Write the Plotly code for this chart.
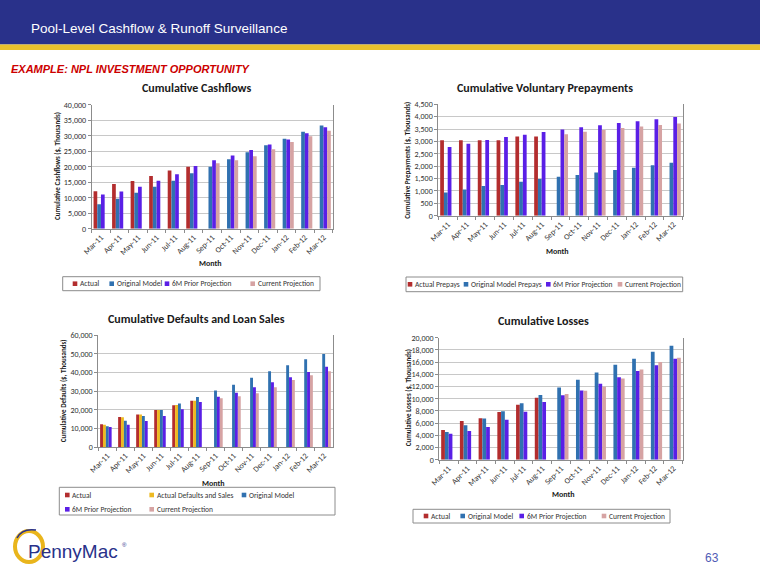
import plotly.graph_objects as go

W, H = 760, 587

months = ["Mar-11", "Apr-11", "May-11", "Jun-11", "Jul-11", "Aug-11", "Sep-11",
          "Oct-11", "Nov-11", "Dec-11", "Jan-12", "Feb-12", "Mar-12"]

# Chart 1: Cumulative Cashflows ($, Thousands)
cf_actual = [12100, 14400, 15400, 17000, 18800, 20000, None, None, None, None, None, None, None]
cf_original = [7850, 9700, 11600, 13500, 15500, 17850, 20000, 22400, 24700, 26900, 29000, 31300, 33300]
cf_6m = [11050, 12000, 13500, 15500, 17600, 20200, 22100, 23600, 25350, 27200, 28800, 30750, 32700]
cf_current = [None, None, None, None, None, None, 21150, 22100, 23400, 25600, 27950, 29850, 31600]

# Chart 2: Cumulative Voluntary Prepayments ($, Thousands)
pp_actual = [3050, 3050, 3050, 3050, 3200, 3200, None, None, None, None, None, None, None]
pp_original = [940, 1060, 1200, 1240, 1375, 1480, 1575, 1645, 1750, 1845, 1940, 2035, 2140]
pp_6m = [2780, 2910, 3060, 3180, 3275, 3385, 3480, 3570, 3655, 3745, 3815, 3895, 3990]
pp_current = [None, None, None, None, None, None, 3290, 3395, 3465, 3545, 3600, 3665, 3720]

# Chart 3: Cumulative Defaults and Loan Sales ($, Thousands)
dl_actual = [12200, 16100, 17500, 19900, 22400, 24900, None, None, None, None, None, None, None]
dl_actual_ds = [12000, 15950, 17400, 19900, 22550, 24900, None, None, None, None, None, None, None]
dl_original = [11100, 14150, 16650, 19900, 23300, 26900, 30300, 33500, 37250, 40650, 43900, 47100, 50000]
dl_6m = [10750, 12000, 13950, 16650, 20250, 24200, 27050, 29200, 32050, 34750, 37450, 40300, 43150]
dl_current = [None, None, None, None, None, None, 26150, 27250, 28850, 32050, 36000, 38500, 40650]

# Chart 4: Cumulative Losses ($, Thousands)
ls_actual = [4850, 6350, 6800, 7800, 9000, 10150, None, None, None, None, None, None, None]
ls_original = [4550, 5650, 6750, 7950, 9250, 10600, 11850, 13100, 14300, 15550, 16550, 17700, 18700]
ls_6m = [4250, 4700, 5350, 6550, 7850, 9450, 10550, 11350, 12450, 13500, 14550, 15500, 16550]
ls_current = [None, None, None, None, None, None, 10750, 11300, 11950, 13300, 14800, 16000, 16700]

C_ACT = "#B32D2E"
C_ADS = "#EDB921"
C_ORIG = "#3071B0"
C_6M = "#5A1FE6"
C_CUR = "#D6A3A3"

FONT = "Carlito, Lato, Liberation Sans, sans-serif"
HFONT = "Liberation Sans Narrow, Arial Narrow, Liberation Sans, Arial, sans-serif"

def px_x(v):
    return v / W

def px_y(v):
    return 1 - v / H

charts = [
    dict(title="Cumulative Cashflows", ytitle="Cumulative Cashflows ($, Thousands)",
         series=[("Actual", cf_actual, C_ACT), ("Original Model", cf_original, C_ORIG),
                 ("6M Prior Projection", cf_6m, C_6M), ("Current Projection", cf_current, C_CUR)],
         ymax=40000, dtick=5000, box=(91.7, 332.7, 104.7, 228.7),
         tpos=(196, 88), ypos=(57, 166), mpos=(211, 263),
         legbox=(62.7, 320, 276.7, 290.7),
         legitems=[(75, 283.7), (111.7, 283.7), (167, 283.7), (252.7, 283.7)]),
    dict(title="Cumulative Voluntary Prepayments", ytitle="Cumulative Prepayments ($, Thousands)",
         series=[("Actual Prepays", pp_actual, C_ACT), ("Original Model Prepays", pp_original, C_ORIG),
                 ("6M Prior Projection", pp_6m, C_6M), ("Current Projection", pp_current, C_CUR)],
         ymax=4500, dtick=500, box=(438.3, 682.7, 104.3, 215.7),
         tpos=(545, 88), ypos=(406.7, 160), mpos=(557, 251),
         legbox=(406, 682.7, 277, 291.7),
         legitems=[(410, 284.3), (466, 284.3), (548.3, 284.3), (620, 284.3)]),
    dict(title="Cumulative Defaults and Loan Sales", ytitle="Cumulative Defaults ($, Thousands)",
         series=[("Actual", dl_actual, C_ACT), ("Actual Defaults and Sales", dl_actual_ds, C_ADS),
                 ("Original Model", dl_original, C_ORIG), ("6M Prior Projection", dl_6m, C_6M),
                 ("Current Projection", dl_current, C_CUR)],
         ymax=60000, dtick=10000, box=(98.3, 332.7, 335.3, 447),
         tpos=(197, 318.5), ypos=(63.3, 391), mpos=(213, 483),
         legbox=(59.3, 335, 487.3, 515),
         legitems=[(67.3, 495), (151.7, 495), (244, 495), (67.3, 509.3), (151.7, 509.3)]),
    dict(title="Cumulative Losses", ytitle="Cumulative Losses ($, Thousands)",
         series=[("Actual", ls_actual, C_ACT), ("Original Model", ls_original, C_ORIG),
                 ("6M Prior Projection", ls_6m, C_6M), ("Current Projection", ls_current, C_CUR)],
         ymax=20000, dtick=2000, box=(439.3, 682.7, 337.7, 459.7),
         tpos=(543, 321), ypos=(408.3, 398), mpos=(563, 494),
         legbox=(413, 670, 509.3, 523),
         legitems=[(426, 516), (462.7, 516), (521.7, 516), (604, 516)]),
]

fig = go.Figure()
annotations = []
shapes = []
layout_axes = {}

# Header
shapes.append(dict(type="rect", xref="paper", yref="paper", x0=0, x1=1,
                   y0=px_y(44.5), y1=1, fillcolor="#29318A", line=dict(width=0), layer="below"))
shapes.append(dict(type="rect", xref="paper", yref="paper", x0=0, x1=1,
                   y0=px_y(50), y1=px_y(44.5), fillcolor="#E9C12E", line=dict(width=0), layer="below"))
annotations.append(dict(text="Pool-Level Cashflow & Runoff Surveillance", x=px_x(29), y=px_y(28),
                        xref="paper", yref="paper", xanchor="left", yanchor="middle", showarrow=False,
                        font=dict(family=HFONT, size=13.5, color="white")))
annotations.append(dict(text="<b><i>EXAMPLE: NPL INVESTMENT OPPORTUNITY</i></b>", x=px_x(9), y=px_y(69),
                        xref="paper", yref="paper", xanchor="left", yanchor="middle", showarrow=False,
                        font=dict(family=HFONT, size=11, color="#CC0000")))

for i, ch in enumerate(charts, start=1):
    xa = "x" if i == 1 else f"x{i}"
    ya = "y" if i == 1 else f"y{i}"
    x0, x1, y0, y1 = ch["box"]
    for name, vals, col in ch["series"]:
        fig.add_trace(go.Bar(x=months, y=vals, name=name, marker=dict(color=col, line=dict(width=0)),
                             xaxis=xa, yaxis=ya, showlegend=False))
    layout_axes["xaxis" if i == 1 else f"xaxis{i}"] = dict(
        domain=[px_x(x0), px_x(x1)], anchor=ya, type="category", categoryorder="array",
        categoryarray=months, tickangle=-45, tickfont=dict(family=FONT, size=8, color="#333333"),
        showline=True, linecolor="#8C8C8C", linewidth=1, ticks="outside", ticklen=3,
        tickcolor="#8C8C8C", tickson="boundaries", showgrid=False, fixedrange=True,
        automargin=False)
    layout_axes["yaxis" if i == 1 else f"yaxis{i}"] = dict(
        domain=[px_y(y1), px_y(y0)], anchor=xa, range=[0, ch["ymax"]], dtick=ch["dtick"],
        tickformat=",", tickfont=dict(family=FONT, size=8, color="#333333"),
        showline=True, linecolor="#8C8C8C", linewidth=1, mirror=True, ticks="outside",
        ticklen=3, tickcolor="#8C8C8C", showgrid=True, gridcolor="#C8C8C8", gridwidth=1,
        zeroline=False, fixedrange=True, automargin=False)
    annotations.append(dict(text=f"<b>{ch['title']}</b>", x=px_x(ch["tpos"][0]), y=px_y(ch["tpos"][1]),
                            xref="paper", yref="paper", showarrow=False, xanchor="center", yanchor="middle",
                            font=dict(family=FONT, size=12, color="#1A1A1A")))
    annotations.append(dict(text=f"<b>{ch['ytitle']}</b>", x=px_x(ch["ypos"][0]), y=px_y(ch["ypos"][1]),
                            xref="paper", yref="paper", showarrow=False, textangle=-90,
                            xanchor="center", yanchor="middle",
                            font=dict(family=FONT, size=7, color="#1A1A1A")))
    annotations.append(dict(text="<b>Month</b>", x=px_x(ch["mpos"][0]), y=px_y(ch["mpos"][1]),
                            xref="paper", yref="paper", showarrow=False, xanchor="center", yanchor="middle",
                            font=dict(family=FONT, size=8, color="#1A1A1A")))
    # legend box
    lx0, lx1, ly0, ly1 = ch["legbox"]
    shapes.append(dict(type="rect", xref="paper", yref="paper", x0=px_x(lx0), x1=px_x(lx1),
                       y0=px_y(ly1), y1=px_y(ly0), line=dict(color="#8C8C8C", width=1),
                       fillcolor="white", layer="below"))
    for (name, vals, col), (sx, sy) in zip(ch["series"], ch["legitems"]):
        shapes.append(dict(type="rect", xref="paper", yref="paper", x0=px_x(sx - 2.3), x1=px_x(sx + 2.3),
                           y0=px_y(sy + 2.3), y1=px_y(sy - 2.3), fillcolor=col, line=dict(width=0)))
        annotations.append(dict(text=name, x=px_x(sx + 3), y=px_y(sy), xref="paper", yref="paper",
                                showarrow=False, xanchor="left", yanchor="middle",
                                font=dict(family=FONT, size=7.5, color="#333333")))

# Footer logo and page number
shapes.append(dict(type="circle", xref="paper", yref="paper", x0=px_x(15), x1=px_x(43),
                   y0=px_y(562), y1=px_y(531), line=dict(color="#E9B51C", width=4)))
shapes.append(dict(type="path", xref="paper", yref="paper",
                   path=f"M {px_x(17)},{px_y(538)} Q {px_x(22)},{px_y(528)} {px_x(36)},{px_y(530)}",
                   line=dict(color="#29318A", width=1.5)))
annotations.append(dict(text="PennyMac", x=px_x(26), y=px_y(551), xref="paper", yref="paper",
                        showarrow=False, xanchor="left", yanchor="middle",
                        font=dict(family=HFONT, size=19, color="#29318A")))
annotations.append(dict(text="®", x=px_x(120), y=px_y(545), xref="paper", yref="paper",
                        showarrow=False, xanchor="left", yanchor="middle",
                        font=dict(family=HFONT, size=6, color="#29318A")))
annotations.append(dict(text="63", x=px_x(712), y=px_y(558), xref="paper", yref="paper",
                        showarrow=False, xanchor="center", yanchor="middle",
                        font=dict(family="Liberation Sans", size=12, color="#4F5BB5")))

fig.update_layout(
    width=W, height=H, margin=dict(l=0, r=0, t=0, b=0, pad=0, autoexpand=False),
    paper_bgcolor="white", plot_bgcolor="white",
    barmode="group", bargap=0.2, bargroupgap=0.0,
    showlegend=False, annotations=annotations, shapes=shapes,
    **layout_axes,
)

fig.write_html("out.html", config={"displayModeBar": False},
               post_script="document.body.style.margin='0';document.body.style.overflow='hidden';")
